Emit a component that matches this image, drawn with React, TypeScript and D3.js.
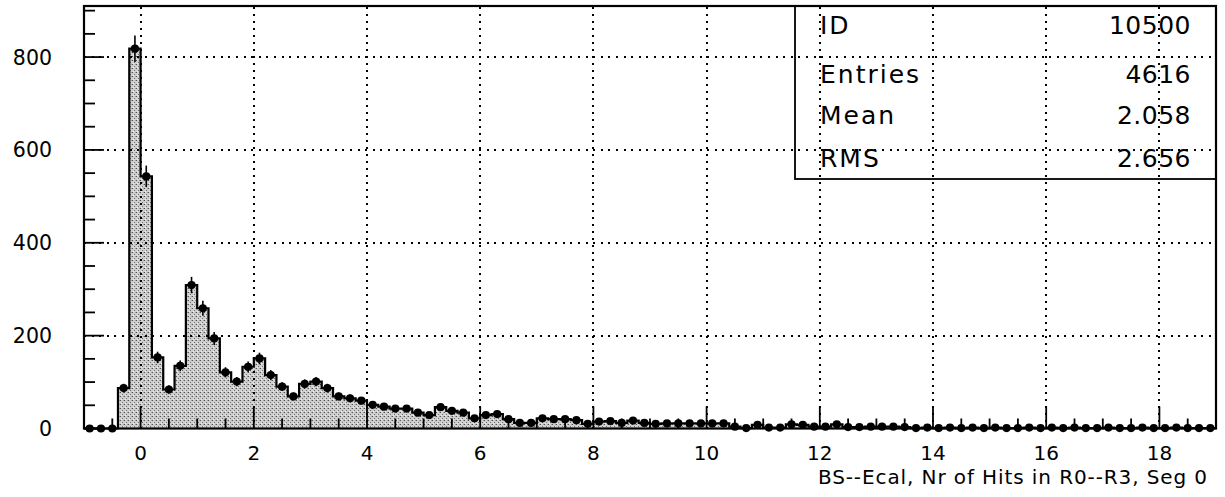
import React from "react";
import * as d3 from "d3";

// Histogram definition: 100 bins of width 0.2 starting at -1
const BIN_START = -1;
const BIN_WIDTH = 0.2;
const counts = [
  0, 0, 0, 87, 818,
  543, 153, 84, 135, 309, 259, 194, 121, 101, 133,
  151, 115, 90, 69, 96, 101, 87, 69, 65, 60,
  51, 47, 43, 43, 34, 29, 46, 38, 34, 22,
  29, 31, 20, 12, 12, 22, 20, 20, 18, 10,
  15, 16, 12, 17, 12, 10, 11, 11, 11, 11,
  11, 11, 4, 1, 8, 2, 2, 9, 8, 4,
  4, 9, 3, 3, 4, 4, 4, 3, 1,
  2, 1, 2, 1, 2, 1, 2, 1, 1, 2,
  1, 2, 1, 2, 1, 1, 2, 1, 1, 2,
  1, 1, 2, 1, 1, 1,
];
const xTickValues = [0, 2, 4, 6, 8, 10, 12, 14, 16, 18];
const yTickValues = [0, 200, 400, 600, 800];
const statLabels = ["ID", "Entries", "Mean", "RMS"];
const statValues = ["10500", "4616", "2.058", "2.656"];
const xTitle = "BS--Ecal, Nr of Hits in R0--R3, Seg 0";

const W = 1225;
const H = 497;
const L = 84, R = 1216, T = 6, B = 428.5;
const FONT = "'DejaVu Sans', Verdana, sans-serif";

export default function App() {
  const x = d3.scaleLinear().domain([-1, 19]).range([L, R]);
  const y = d3.scaleLinear().domain([0, 910]).range([B, T]);

  const bins = counts.map((v, i) => ({
    x0: BIN_START + i * BIN_WIDTH,
    x1: BIN_START + (i + 1) * BIN_WIDTH,
    c: BIN_START + (i + 0.5) * BIN_WIDTH,
    v,
  }));

  const stepPts: [number, number][] = [];
  bins.forEach((b) => {
    stepPts.push([b.x0, b.v]);
    stepPts.push([b.x1, b.v]);
  });

  const area = d3
    .area<[number, number]>()
    .x((d) => x(d[0]))
    .y0(y(0))
    .y1((d) => y(d[1]));
  const line = d3
    .line<[number, number]>()
    .x((d) => x(d[0]))
    .y((d) => y(d[1]));

  const xMinor = d3.range(-1, 19.001, 0.5);
  const yMinor = d3.range(0, 901, 50);

  const rowBase = [34, 83, 124, 167];

  return (
    <svg
      width={W}
      height={H}
      style={{ position: "absolute", left: 0, top: 0, background: "#fff" }}
      fontFamily={FONT}
    >
      <defs>
        <pattern id="stip" width="4" height="4" patternUnits="userSpaceOnUse">
          <rect width="4" height="4" fill="#cfcfcf" />
          <rect x="0" y="0" width="1" height="1" fill="#505050" />
          <rect x="2" y="2" width="1" height="1" fill="#707070" />
          <rect x="3" y="0" width="1" height="1" fill="#a0a0a0" />
          <rect x="1" y="3" width="1" height="1" fill="#eeeeee" />
        </pattern>
      </defs>
      <rect width={W} height={H} fill="#fff" />

      {/* histogram fill */}
      <path d={area(stepPts) || ""} fill="url(#stip)" stroke="none" />

      {/* grid */}
      {xTickValues.map((t) => (
        <line
          key={"gx" + t}
          x1={Math.round(x(t))}
          x2={Math.round(x(t))}
          y1={B}
          y2={T}
          stroke="#000"
          strokeWidth={2}
          strokeDasharray="2 5"
          shapeRendering="crispEdges"
        />
      ))}
      {yTickValues
        .filter((t) => t > 0)
        .map((t) => (
          <line
            key={"gy" + t}
            x1={L}
            x2={R}
            y1={Math.round(y(t))}
            y2={Math.round(y(t))}
            stroke="#000"
            strokeWidth={2}
            strokeDasharray="2 5.6"
            shapeRendering="crispEdges"
          />
        ))}

      {/* histogram outline */}
      <path d={line(stepPts) || ""} fill="none" stroke="#000" strokeWidth={2.2} />

      {/* error bars */}
      {bins
        .filter((b) => b.v > 0)
        .map((b, i) => (
          <line
            key={"e" + i}
            x1={x(b.c)}
            x2={x(b.c)}
            y1={y(b.v - Math.sqrt(b.v))}
            y2={y(b.v + Math.sqrt(b.v))}
            stroke="#000"
            strokeWidth={1.6}
          />
        ))}

      {/* markers */}
      {bins.map((b, i) => (
        <circle key={"m" + i} cx={x(b.c)} cy={y(b.v)} r={4.1} fill="#000" />
      ))}

      {/* x ticks */}
      {xMinor.map((t) => {
        const major = Math.abs(t / 2 - Math.round(t / 2)) < 1e-6;
        return (
          <line
            key={"xt" + t}
            x1={x(t)}
            x2={x(t)}
            y1={B}
            y2={B - (major ? 22 : 10)}
            stroke="#000"
            strokeWidth={1.8}
          />
        );
      })}
      {/* y ticks */}
      {yMinor.map((t) => {
        const major = t % 200 === 0;
        return (
          <line
            key={"yt" + t}
            x1={L}
            x2={L + (major ? 20 : 11)}
            y1={y(t)}
            y2={y(t)}
            stroke="#000"
            strokeWidth={1.8}
          />
        );
      })}

      {/* frame */}
      <rect x={L} y={T} width={R - L} height={B - T} fill="none" stroke="#000" strokeWidth={2.2} />

      {/* tick labels */}
      {xTickValues.map((t) => (
        <text key={"xl" + t} x={x(t)} y={460} textAnchor="middle" fontSize={20} fill="#000">
          {t}
        </text>
      ))}
      {yTickValues.map((t) => (
        <text key={"yl" + t} x={52} y={y(t) + 7.5} textAnchor="end" fontSize={20.5} fill="#000">
          {t}
        </text>
      ))}

      {/* x title */}
      <text x={1208} y={484} textAnchor="end" fontSize={20} letterSpacing={0.9} fill="#000">
        {xTitle}
      </text>

      {/* stats box */}
      <rect x={795} y={T} width={R - 795} height={179 - T} fill="none" stroke="#000" strokeWidth={1.8} />
      {statLabels.map((s, i) => (
        <text key={"sl" + i} x={820} y={rowBase[i]} fontSize={25} letterSpacing={2} fill="#000">
          {s}
        </text>
      ))}
      {statValues.map((s, i) => (
        <text key={"sv" + i} x={1191} y={rowBase[i]} textAnchor="end" fontSize={25} letterSpacing={0.5} fill="#000">
          {s}
        </text>
      ))}
    </svg>
  );
}
